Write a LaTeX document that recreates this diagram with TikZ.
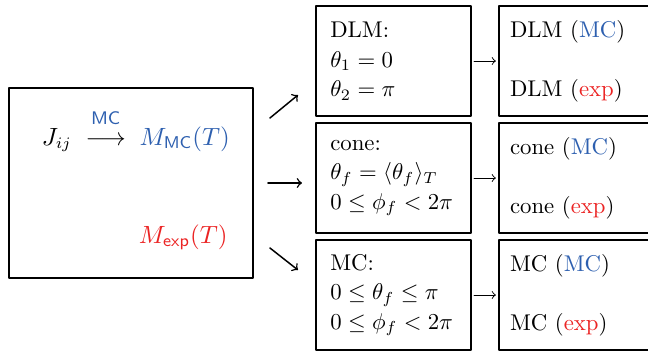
\documentclass[tikz,border=0pt]{standalone}
\usepackage{amsmath}
\definecolor{mcblue}{RGB}{45,95,175}
\definecolor{exred}{RGB}{235,35,35}
\begin{document}
\begin{tikzpicture}[>=to,line join=round,line cap=round,
		box/.style={draw,line width=0.8pt,minimum height=1.697cm,inner ysep=0pt},
		midbox/.style={box,text width=1.95cm,inner xsep=0.221cm,align=left},
		resbox/.style={box,text width=2.05cm,inner xsep=0.17cm,align=left}]
					\useasboundingbox (0,0) rectangle (10,5.432);
					\clip (0,0) rectangle (10,5.432);
					\node[draw,line width=0.8pt,minimum width=3.765cm,minimum height=2.932cm] (input) at (2.022,2.608) {};
					\node[anchor=base west,inner sep=0,font=\fontsize{10.7}{13}\selectfont] (mcmap) at (0.64,3.194) {$J_{ij}\;\overset{\raisebox{3pt}{\fontsize{8}{9}\selectfont\textcolor{mcblue}{\textsf{MC}}}}{\longrightarrow}\;\textcolor{mcblue}{M_{\textsf{MC}}(T)}$};
					\node[anchor=base east,inner sep=0,text=exred,font=\fontsize{10.7}{13}\selectfont] (mexp) at (3.518,1.682) {$M_{\textsf{exp}}(T)$};
					\node[midbox] (dlm) at (6.072,4.490) {DLM:\\[1pt] $\theta_1=0$\\[1pt] $\theta_2=\pi$};
					\node[midbox] (cone) at (6.072,2.685) {cone:\\[1pt] $\theta_f=\langle\theta_f\rangle_T$\\[1pt] $0\le\phi_f<2\pi$};
					\node[midbox] (mc) at (6.072,0.880) {MC:\\[1pt] $0\le\theta_f\le\pi$\\[1pt] $0\le\phi_f<2\pi$};
					\node[resbox] (dlmres) at (8.896,4.490) {DLM (\textcolor{mcblue}{MC})\\[14pt] DLM (\textcolor{exred}{exp})};
					\node[resbox] (coneres) at (8.896,2.685) {cone (\textcolor{mcblue}{MC})\\[14pt] cone (\textcolor{exred}{exp})};
					\node[resbox] (mcres) at (8.896,0.880) {MC (\textcolor{mcblue}{MC})\\[14pt] MC (\textcolor{exred}{exp})};
					\coordinate (up0) at (4.166,3.611);
					\coordinate (up1) at (4.598,3.966);
					\coordinate (mid0) at (4.135,2.608);
					\coordinate (mid1) at (4.660,2.608);
					\coordinate (down0) at (4.166,1.605);
					\coordinate (down1) at (4.598,1.265);
					\draw[->,line width=0.65pt] (up0)--(up1);
					\draw[->,line width=0.65pt] (mid0)--(mid1);
					\draw[->,line width=0.65pt] (down0)--(down1);
					\draw[->,line width=0.4pt,shorten <=1pt,shorten >=1pt] (dlm)--(dlmres);
					\draw[->,line width=0.4pt,shorten <=1pt,shorten >=1pt] (cone)--(coneres);
					\draw[->,line width=0.4pt,shorten <=1pt,shorten >=1pt] (mc)--(mcres);
				\end{tikzpicture}
\end{document}
